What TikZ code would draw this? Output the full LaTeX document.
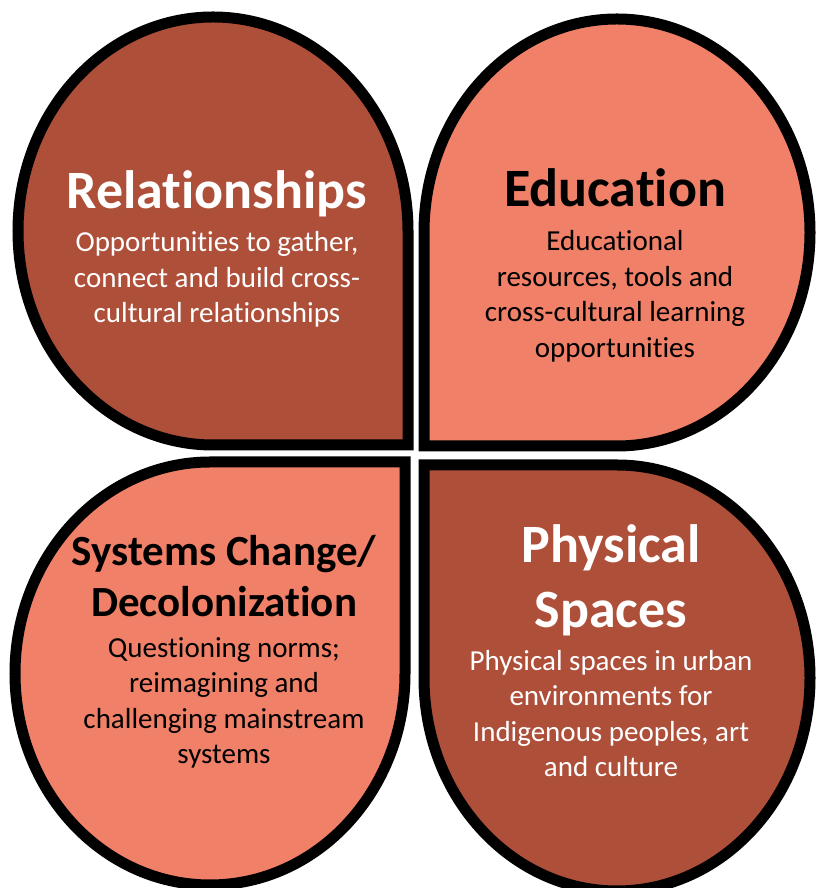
\documentclass[tikz,border=0pt]{standalone}
\usepackage{fontspec}
\setmainfont[RawFeature={-liga;-clig;-dlig;-calt}]{Carlito}
\definecolor{rust}{HTML}{AE4F3A}
\definecolor{salmon}{HTML}{F08068}
\tikzset{
  leaf/.style={draw=black, line width=11pt, line join=miter},
  heading/.style={font=\fontsize{54}{65}\selectfont\bfseries, align=center, anchor=base},
  blurb/.style={font=\fontsize{29}{35.5}\selectfont, align=center, anchor=base}
}
\begin{document}
\begin{tikzpicture}[x=1pt,y=1pt]
  \useasboundingbox (0,0) rectangle (815,888);
  % four leaves, square corner towards the middle
  \draw[leaf, fill=rust] (408,443) -- (213,443)
    arc[start angle=270, end angle=0, x radius=195, y radius=214] -- cycle;
  \draw[leaf, fill=salmon] (424,442) -- (424,655.5)
    arc[start angle=180, end angle=-90, x radius=193, y radius=213.5] -- cycle;
  \draw[leaf, fill=salmon] (405,426) -- (405,214.5)
    arc[start angle=0, end angle=-270, x radius=195, y radius=211.5] -- cycle;
  \draw[leaf, fill=rust] (424,423) -- (617,423)
    arc[start angle=90, end angle=-180, x radius=193, y radius=213] -- cycle;
  % texts (base = baseline of the last line)
  \node (relhead) at (216.5,679) [heading, text=white] {Relationships};
  \node (reltext) at (217,565) [blurb, text=white]
    {Opportunities to gather,\\connect and build cross-\\cultural relationships};
  \node (eduhead) at (615,681) [heading] {Education};
  \node (edutext) at (615,530.5) [blurb]
    {Educational\\resources, tools and\\cross-cultural learning\\opportunities};
  \node (syshead) at (224,271) [heading, font=\fontsize{43}{51}\selectfont\bfseries]
    {Systems Change/\\Decolonization};
  \node (systext) at (224,124) [blurb]
    {Questioning norms;\\reimagining and\\challenging mainstream\\systems};
  \node (phyhead) at (611,260) [heading, text=white] {Physical\\Spaces};
  \node (phytext) at (611,111) [blurb, text=white]
    {Physical spaces in urban\\environments for\\Indigenous peoples, art\\and culture};
\end{tikzpicture}
\end{document}
